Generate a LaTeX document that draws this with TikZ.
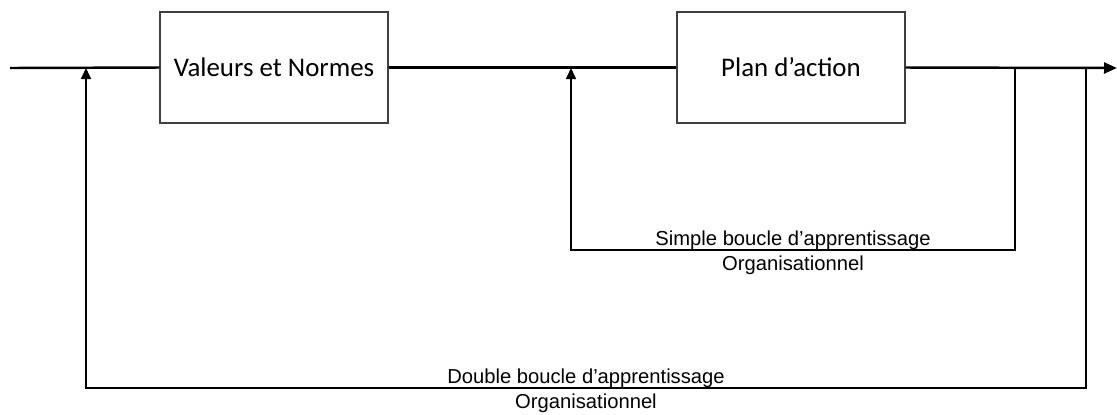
\documentclass[tikz,border=0pt]{standalone}
\usepackage{fontspec}
\setmainfont{Carlito}
\newfontfamily\labelfont{Liberation Sans}
\usetikzlibrary{positioning,arrows.meta,calc}

\begin{document}
\begin{tikzpicture}[
    x=0.02cm, y=-0.02cm,
    block/.style={rectangle, draw=black!75, line width=0.8pt, fill=white, minimum width=4.56cm, minimum height=2.22cm, font=\fontsize{15.3}{18}\selectfont},
    mainline/.style={line width=1.4pt},
    feedback/.style={line width=0.9pt, -{Triangle[length=2.2mm, width=2mm]}},
    looplabel/.style={font=\labelfont\fontsize{11.5}{13}\selectfont, inner sep=0pt, anchor=base},
    toplabel/.style={looplabel, yshift=2.6pt},
    bottomlabel/.style={looplabel, yshift=-11.8pt}
]
\useasboundingbox (0,0) rectangle (1117,414);

% Main blocks
\node[block] (valeurs) at (274,67.5) {Valeurs et Normes};
\node[block] (plan) at (791,67.5) {Plan d’action};

% Forward path
\coordinate (input) at (10,68);
\coordinate (output) at (1117,68);
\draw[mainline] (input) -- (valeurs.west);
\draw[mainline] (valeurs.east) -- (plan.west);
\draw[mainline, -{Triangle[length=2.6mm, width=2.2mm]}] (plan.east) -- (output);

% Simple loop
\coordinate (simpleout) at (1015,68);
\coordinate (simpledown) at (1015,250);
\coordinate (simpleup) at (571,250);
\coordinate (simplein) at (571,68);
\draw[feedback] (simpleout) -- (simpledown)
    -- node[toplabel] {Simple boucle d’apprentissage}
       node[bottomlabel] {Organisationnel} (simpleup)
    -- (simplein);

% Double loop
\coordinate (doubleout) at (1086,68);
\coordinate (doubledown) at (1086,388);
\coordinate (doubleup) at (86,388);
\coordinate (doublein) at (86,68);
\draw[feedback] (doubleout) -- (doubledown)
    -- node[toplabel] {Double boucle d’apprentissage}
       node[bottomlabel] {Organisationnel} (doubleup)
    -- (doublein);

\end{tikzpicture}
\end{document}
